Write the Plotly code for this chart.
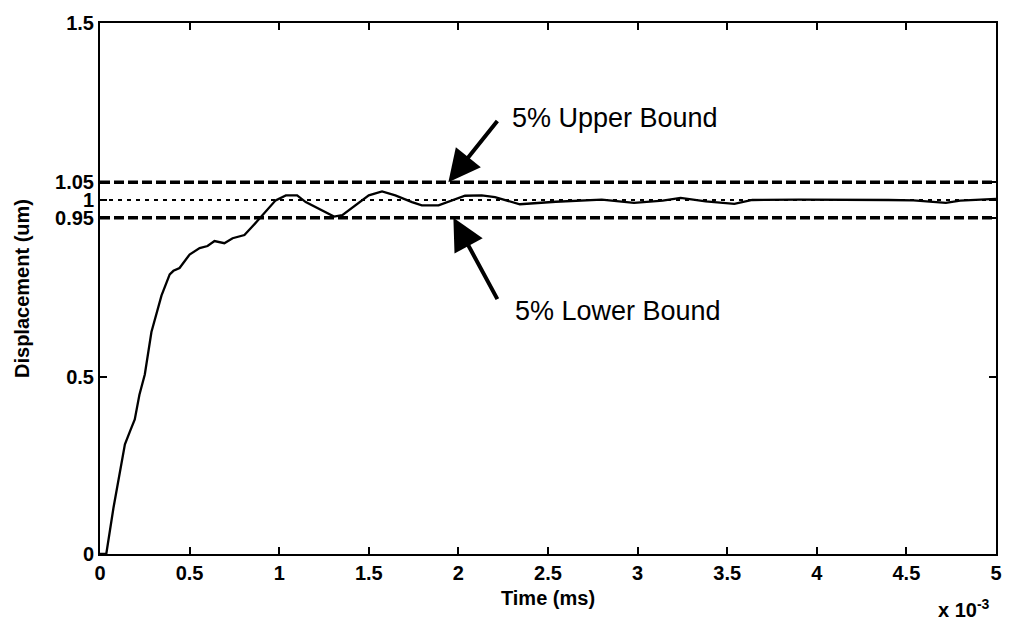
import plotly.graph_objects as go

# ---- data (time in seconds, displacement in um) ----
time_ms = [0.0, 0.035, 0.075, 0.12, 0.139, 0.17, 0.194, 0.22, 0.25, 0.287, 0.32, 0.343,
           0.389, 0.41, 0.444, 0.5, 0.556, 0.6, 0.639, 0.694, 0.74, 0.806, 0.85, 0.889,
           0.935, 0.98, 1.037, 1.10, 1.148, 1.24, 1.306, 1.352, 1.426, 1.5, 1.574, 1.648,
           1.741, 1.796, 1.889, 1.963, 2.037, 2.13, 2.204, 2.343, 2.543, 2.80, 2.98, 3.14,
           3.24, 3.38, 3.54, 3.64, 3.90, 4.40, 4.54, 4.72, 4.80, 5.0]
displacement = [0.0, 0.0, 0.13, 0.26, 0.31, 0.35, 0.38, 0.45, 0.507, 0.627, 0.69, 0.73,
                0.79, 0.80, 0.808, 0.846, 0.864, 0.87, 0.884, 0.878, 0.892, 0.901, 0.925, 0.948,
                0.975, 0.999, 1.013, 1.013, 0.994, 0.971, 0.953, 0.957, 0.985, 1.013, 1.024, 1.013,
                0.994, 0.985, 0.985, 0.999, 1.012, 1.013, 1.008, 0.988, 0.995, 1.001, 0.992, 0.998,
                1.006, 0.996, 0.989, 1.0, 1.001, 1.0, 0.999, 0.992, 0.998, 1.003]
time_s = [t * 1e-3 for t in time_ms]

bound_x = [0.0, 0.005]
upper_bound = [1.05, 1.05]
reference = [1.0, 1.0]
lower_bound = [0.95, 0.95]

x_tickvals = [0, 0.0005, 0.001, 0.0015, 0.002, 0.0025, 0.003, 0.0035, 0.004, 0.0045, 0.005]
x_ticktext = ["0", "0.5", "1", "1.5", "2", "2.5", "3", "3.5", "4", "4.5", "5"]
y_tickvals = [0, 0.5, 0.95, 1.0, 1.05, 1.5]
y_ticktext = ["0", "0.5", "0.95", "1", "1.05", "1.5"]

FONT = "Liberation Sans, Arial, sans-serif"

fig = go.Figure()
fig.add_trace(go.Scatter(x=bound_x, y=upper_bound, mode="lines",
                         line=dict(color="black", width=3.4, dash="10px,4px"), hoverinfo="skip"))
fig.add_trace(go.Scatter(x=bound_x, y=lower_bound, mode="lines",
                         line=dict(color="black", width=3.4, dash="10px,4px"), hoverinfo="skip"))
fig.add_trace(go.Scatter(x=bound_x, y=reference, mode="lines",
                         line=dict(color="black", width=1.8, dash="4px,5px"), hoverinfo="skip"))
fig.add_trace(go.Scatter(x=time_s, y=displacement, mode="lines",
                         line=dict(color="black", width=2.3), hoverinfo="skip"))

axis_common = dict(showline=True, linecolor="black", linewidth=2, mirror="ticks",
                   ticks="inside", ticklen=7, tickwidth=1.5, tickcolor="black",
                   showgrid=False, zeroline=False,
                   tickfont=dict(family=FONT, size=20, color="black", weight="bold"))

fig.update_xaxes(range=[0, 0.005], tickmode="array", tickvals=x_tickvals, ticktext=x_ticktext,
                 title=dict(text="Time (ms)",
                            font=dict(family=FONT, size=20, color="black", weight="bold"),
                            standoff=8),
                 **axis_common)
fig.update_yaxes(range=[0, 1.5], tickmode="array", tickvals=y_tickvals, ticktext=y_ticktext,
                 title=dict(text="Displacement (um)",
                            font=dict(family=FONT, size=20, color="black", weight="bold"),
                            standoff=20),
                 **axis_common)

# arrows
fig.add_annotation(x=0.001944, y=1.05, xref="x", yref="y", text=" ", showarrow=True,
                   ax=52, ay=-65, arrowhead=2, arrowsize=1.6, arrowwidth=4, arrowcolor="black")
fig.add_annotation(x=0.001972, y=0.95, xref="x", yref="y", text=" ", showarrow=True,
                   ax=47, ay=87, arrowhead=2, arrowsize=1.6, arrowwidth=4, arrowcolor="black")
fig.add_annotation(x=0.00229, y=1.232, xref="x", yref="y", text="5% Upper Bound",
                   showarrow=False, xanchor="left", yanchor="middle",
                   font=dict(family=FONT, size=27, color="black"))
fig.add_annotation(x=0.002306, y=0.687, xref="x", yref="y", text="5% Lower Bound",
                   showarrow=False, xanchor="left", yanchor="middle",
                   font=dict(family=FONT, size=27, color="black"))
fig.add_annotation(x=0.996, y=-0.075, xref="paper", yref="paper", text="x 10<sup>-3</sup>",
                   showarrow=False, xanchor="right", yanchor="top",
                   font=dict(family=FONT, size=20, color="black", weight="bold"))

fig.update_layout(width=1014, height=630, showlegend=False,
                  paper_bgcolor="white", plot_bgcolor="white",
                  margin=dict(l=100, r=14, t=17, b=76))

fig.write_html("out.html")
